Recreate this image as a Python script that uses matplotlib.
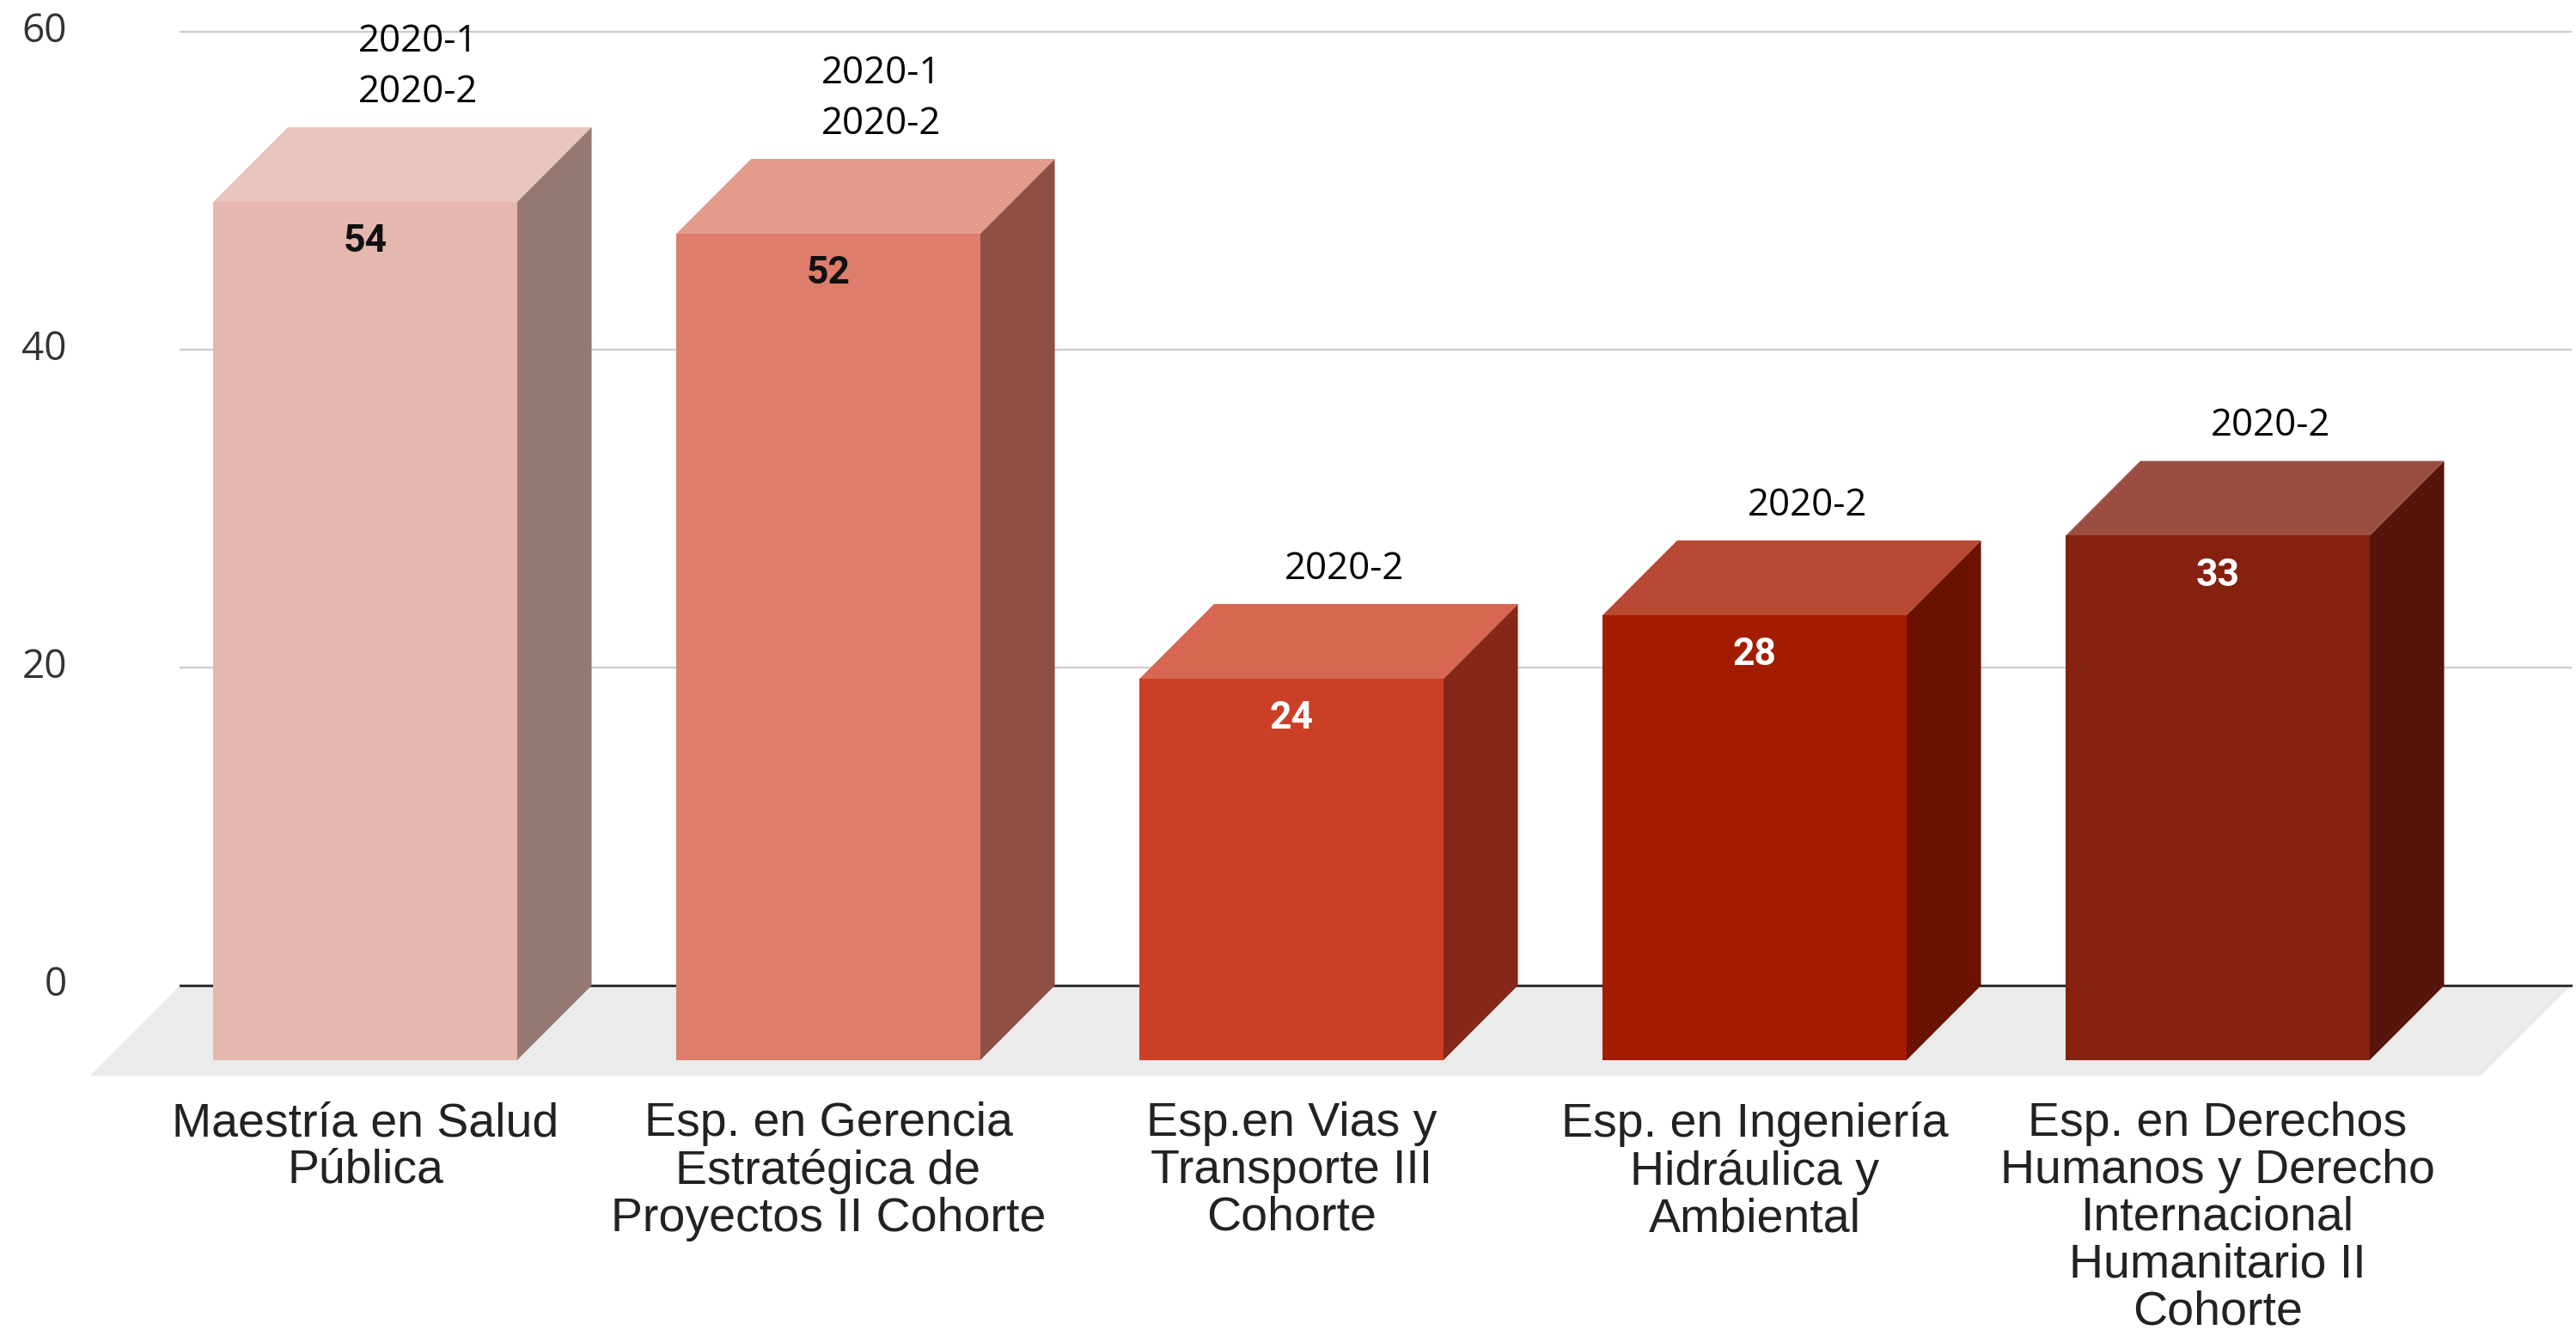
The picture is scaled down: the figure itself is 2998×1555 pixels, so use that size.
import matplotlib.pyplot as plt
from matplotlib.patches import Polygon

# data
programas = ['Maestría en Salud\nPública',
             'Esp. en Gerencia\nEstratégica de\nProyectos II Cohorte',
             'Esp.en Vias y\nTransporte III\nCohorte',
             'Esp. en Ingeniería\nHidráulica y\nAmbiental',
             'Esp. en Derechos\nHumanos y Derecho\nInternacional\nHumanitario II\nCohorte']
estudiantes = [54, 52, 24, 28, 33]
periodos = ['2020-1\n2020-2', '2020-1\n2020-2', '2020-2', '2020-2', '2020-2']
y_ticks = [0, 20, 40, 60]

front_colors = ['#E5B7AF', '#DE7D6B', '#CA3F25', '#A41C00', '#86200F']
side_colors = ['#957871', '#8E4F44', '#862818', '#6B1200', '#55150A']
top_colors = ['#E9C5BD', '#E39B8C', '#D76750', '#B84A35', '#9B4E40']
label_colors = ['#111111', '#111111', 'white', 'white', 'white']

fig = plt.figure(figsize=(29.98, 15.55), dpi=100)
ax = fig.add_axes([0, 0, 1, 1])
ax.set_xlim(-0.7885, 4.7737)
ax.set_ylim(-22.05, 62.0)
ax.axis('off')

w = 0.328   # half width of bar front
dx = 0.161  # depth shift in x
dy = 4.7    # depth shift in y
gx0, gx1 = -0.399, 4.763

# gridlines
for t in y_ticks[1:]:
    ax.plot([gx0, gx1], [t, t], color='#CCCCCC', lw=1.6, zorder=1)
for t in y_ticks:
    ax.text(-0.644, t, str(t), ha='right', va='center', fontsize=33,
            family='Open Sans', color='#333333')

# floor
fd, fdx = 5.68, 0.195
ax.add_patch(Polygon([(gx0, 0), (gx1, 0), (gx1 - fdx, -fd), (gx0 - fdx, -fd)],
                     closed=True, facecolor='#EBEBEB', edgecolor='none', zorder=2))
ax.plot([gx0, gx1], [0, 0], color='#333333', lw=2.2, zorder=3)

for i, v in enumerate(estudiantes):
    c = i
    ax.add_patch(Polygon([(c + w, -dy), (c + w + dx, 0), (c + w + dx, v), (c + w, v - dy)],
                         closed=True, facecolor=side_colors[i], edgecolor='none', zorder=4))
    ax.add_patch(Polygon([(c - w, v - dy), (c + w, v - dy), (c + w + dx, v), (c - w + dx, v)],
                         closed=True, facecolor=top_colors[i], edgecolor='none', zorder=4))
    ax.add_patch(Polygon([(c - w, -dy), (c + w, -dy), (c + w, v - dy), (c - w, v - dy)],
                         closed=True, facecolor=front_colors[i], edgecolor='none', zorder=5))
    ax.text(c, v - dy - 2.5, str(v), ha='center', va='center', fontsize=32,
            family='Roboto', fontweight='bold', color=label_colors[i], zorder=6)
    ax.text(c + 0.115, v + 1.0, periodos[i], ha='center', va='bottom', fontsize=31.5,
            family='Open Sans', color='black', linespacing=1.42, zorder=6)
    ax.text(c, -7.3, programas[i], ha='center', va='top', fontsize=40,
            family='Liberation Sans', color='#222222', linespacing=1.07, zorder=6)

fig.savefig('out.png', dpi=100)
